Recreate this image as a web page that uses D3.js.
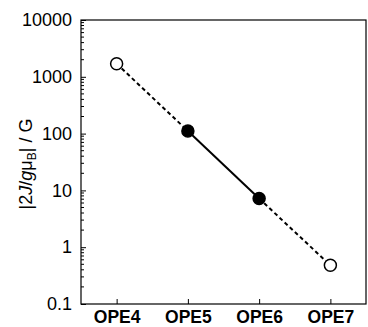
<!DOCTYPE html>
<html>
<head>
<meta charset="utf-8">
<style>
  body { margin: 0; background: #fff; }
  text { font-family: "Liberation Sans", Arial, sans-serif; }
</style>
</head>
<body>
<div id="chart"></div>
<script src="https://d3js.org/d3.v7.min.js"></script>
<script>
// data
const categories = ["OPE4", "OPE5", "OPE6", "OPE7"];
const values = [1700, 111, 7.2, 0.48];
const filled = [false, true, true, false];
const yTicks = [0.1, 1, 10, 100, 1000, 10000];

const W = 368, H = 327;
const margin = { top: 20, right: 2, bottom: 23, left: 81 };

const svg = d3.select("#chart").append("svg")
  .attr("width", W).attr("height", H);

const x = d3.scalePoint()
  .domain(categories)
  .range([margin.left, W - margin.right])
  .padding(0.5);

const y = d3.scaleLog()
  .domain([0.1, 10000])
  .range([H - margin.bottom, margin.top]);

// minor ticks on the log axis
const minor = [];
for (let e = -1; e < 4; e++) {
  for (let k = 2; k < 10; k++) minor.push(k * Math.pow(10, e));
}

svg.append("g")
  .selectAll("line").data(minor).join("line")
  .attr("x1", margin.left).attr("x2", margin.left + 3)
  .attr("y1", d => y(d)).attr("y2", d => y(d))
  .attr("stroke", "#000").attr("stroke-width", 1);

const yAxis = svg.append("g")
  .attr("transform", `translate(${margin.left},0)`)
  .call(d3.axisLeft(y).tickValues(yTicks).tickSize(-5).tickPadding(9)
    .tickFormat(d => d < 1 ? "0.1" : d3.format("d")(d)));
yAxis.select(".domain").remove();
yAxis.selectAll("text").attr("font-size", 18).attr("fill", "#000");
yAxis.selectAll("line").attr("stroke", "#000");

const xAxis = svg.append("g")
  .attr("transform", `translate(0,${H - margin.bottom})`)
  .call(d3.axisBottom(x).tickSize(-5).tickPadding(8));
xAxis.select(".domain").remove();
xAxis.selectAll("text").attr("font-size", 17.5).attr("font-weight", "bold").attr("fill", "#000")
  .attr("dy", "0.62em");
xAxis.selectAll("line").attr("stroke", "#000");

// frame
svg.append("rect")
  .attr("x", margin.left).attr("y", margin.top)
  .attr("width", W - margin.right - margin.left)
  .attr("height", H - margin.bottom - margin.top)
  .attr("fill", "none").attr("stroke", "#000").attr("stroke-width", 1.2);

const pts = categories.map((c, i) => ({ c, v: values[i], f: filled[i] }));
const line = d3.line().x(d => x(d.c)).y(d => y(d.v));

// dashed outer segments, solid middle
svg.append("path").datum(pts.slice(0, 2)).attr("d", line)
  .attr("fill", "none").attr("stroke", "#000").attr("stroke-width", 2).attr("stroke-dasharray", "4,3");
svg.append("path").datum(pts.slice(1, 3)).attr("d", line)
  .attr("fill", "none").attr("stroke", "#000").attr("stroke-width", 2);
svg.append("path").datum(pts.slice(2, 4)).attr("d", line)
  .attr("fill", "none").attr("stroke", "#000").attr("stroke-width", 2).attr("stroke-dasharray", "4,3");

svg.selectAll("circle.pt").data(pts).join("circle")
  .attr("class", "pt")
  .attr("cx", d => x(d.c)).attr("cy", d => y(d.v))
  .attr("r", 6)
  .attr("fill", d => d.f ? "#000" : "#fff")
  .attr("stroke", "#000").attr("stroke-width", 1.5);

// y label
const lab = svg.append("text")
  .attr("transform", `translate(32,164) rotate(-90)`)
  .attr("text-anchor", "middle").attr("font-size", 18).attr("fill", "#000");
lab.append("tspan").text("|2");
lab.append("tspan").attr("font-style", "italic").text("J");
lab.append("tspan").text("/");
lab.append("tspan").attr("font-style", "italic").text("g");
lab.append("tspan").text("μ");
lab.append("tspan").attr("font-size", 12).attr("dy", 4).text("B");
lab.append("tspan").attr("dy", -4).text("| / G");
</script>
</body>
</html>
